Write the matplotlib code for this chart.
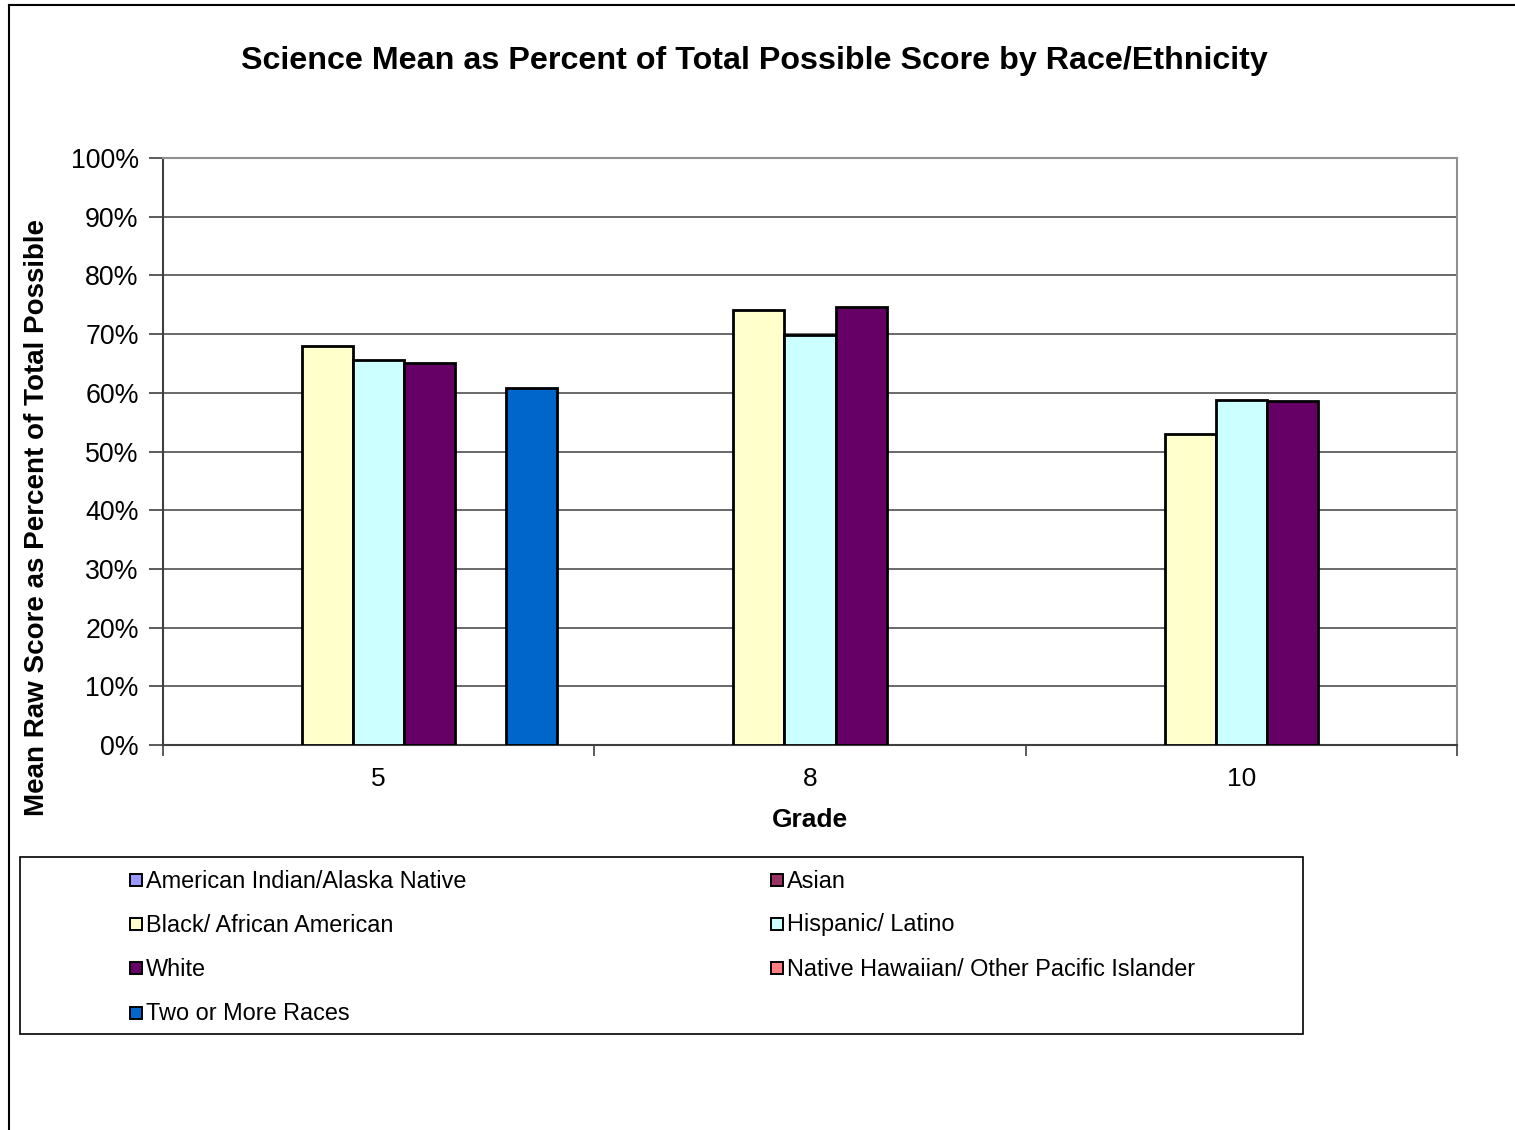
import numpy as np
import matplotlib.pyplot as plt
from matplotlib.patches import Rectangle
from matplotlib.lines import Line2D

plt.rcParams['font.family'] = ['Liberation Sans', 'DejaVu Sans']

grades = ['5', '8', '10']
series_names = ['American Indian/Alaska Native', 'Asian', 'Black/ African American',
                'Hispanic/ Latino', 'White', 'Native Hawaiian/ Other Pacific Islander',
                'Two or More Races']
american_indian = [np.nan, np.nan, np.nan]
asian = [np.nan, np.nan, np.nan]
black = [67.9, 74.1, 53.0]
hispanic = [65.6, 69.85, 58.8]
white = [65.1, 74.6, 58.6]
native_hawaiian = [np.nan, np.nan, np.nan]
two_or_more = [60.9, np.nan, np.nan]
series_values = [american_indian, asian, black, hispanic, white, native_hawaiian, two_or_more]
colors = ['#9999FF', '#993366', '#FFFFCC', '#CCFFFF', '#660066', '#FF8080', '#0066CC']

W, H = 1515, 1130
fig = plt.figure(figsize=(W / 100, H / 100), dpi=100)

def fx(px):
    return px / W

def fy(py):
    return 1 - py / H

ax = fig.add_axes([fx(163), fy(745), fx(1457) - fx(163), fy(158) - fy(745)])

# Excel style grouped bars: 7 slots per category, gap at the edges
bar_w = 51 / 431
x = np.arange(len(grades))
for i, (vals, c) in enumerate(zip(series_values, colors)):
    offs = (i - 3) * bar_w
    for xi, v in zip(x, vals):
        if not np.isnan(v):
            ax.bar(xi + offs, v, width=bar_w, color=c, edgecolor='black', linewidth=2, zorder=3)

ax.set_xlim(-0.5, 2.5)
ax.set_ylim(0, 100)
ax.set_yticks(np.arange(0, 101, 10))
ax.set_yticklabels([f'{v}%' for v in range(0, 101, 10)], fontsize=19.3)
ax.yaxis.grid(True, color='#505050', linewidth=1.2, zorder=0)
ax.set_xticks(x)
ax.set_xticklabels(grades, fontsize=19)
ax.set_xticks([-0.5, 0.5, 1.5, 2.5], minor=True)
ax.tick_params(axis='x', which='major', length=0, pad=16)
ax.tick_params(axis='x', which='minor', length=8, width=1.2, color='#404040', direction='out')
ax.tick_params(axis='y', length=10, width=1.2, color='#404040', pad=7.5)
ax.spines['left'].set_color('#404040')
ax.spines['bottom'].set_color('#404040')
ax.spines['top'].set_color('#909090')
ax.spines['right'].set_color('#909090')
for s in ax.spines.values():
    s.set_linewidth(1.5)

ax.set_xlabel('Grade', fontsize=19, fontweight='bold', labelpad=12)
fig.text(fx(37), fy(517), 'Mean Raw Score as Percent of Total Possible', rotation=90,
         fontsize=20, fontweight='bold', ha='center', va='center')
fig.text(fx(754), fy(61), 'Science Mean as Percent of Total Possible Score by Race/Ethnicity',
         fontsize=23.2, fontweight='bold', ha='center', va='center')

# outer chart frame
fig.add_artist(Line2D([fx(9), 1], [fy(5), fy(5)], color='black', linewidth=1.5))
fig.add_artist(Line2D([fx(9), fx(9)], [0, fy(5)], color='black', linewidth=1.5))

# legend box, filled row by row in two columns
fig.add_artist(Rectangle((fx(20), fy(1034)), fx(1303) - fx(20), fy(857) - fy(1034),
                         facecolor='none', edgecolor='black', linewidth=1.2))
col_x = [130, 771]
row_y = [880, 924, 968, 1013]
for k, (name, c) in enumerate(zip(series_names, colors)):
    cx = col_x[k % 2]
    cy = row_y[k // 2]
    fig.add_artist(Rectangle((fx(cx), fy(cy + 6)), fx(12), 12 / H,
                             facecolor=c, edgecolor='black', linewidth=1.4))
    fig.text(fx(cx + 16), fy(cy + 1), name, fontsize=16.9, ha='left', va='center')

fig.savefig('out.png', dpi=100)
